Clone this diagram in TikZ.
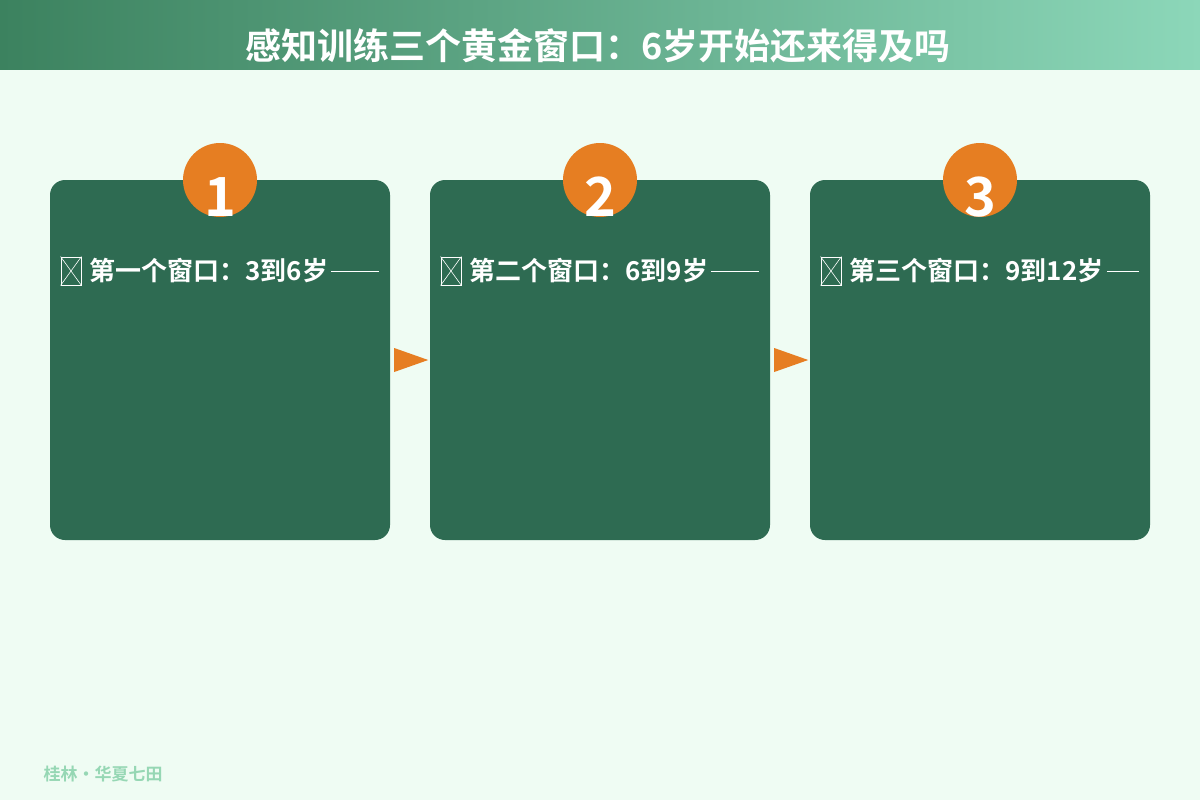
\documentclass[tikz,border=0pt]{standalone}
\usepackage{fontspec}
\setmainfont{Noto Sans CJK SC}
\newfontfamily\cjkb{Noto Sans CJK SC Bold}
\usetikzlibrary{positioning}
\definecolor{bgmint}{RGB}{239,252,243}
\definecolor{boxgreen}{RGB}{46,107,82}
\definecolor{badgeorange}{RGB}{230,126,34}
\definecolor{footgreen}{RGB}{150,215,180}
\definecolor{headdark}{RGB}{60,130,95}
\definecolor{headlight}{RGB}{140,215,185}

\begin{document}
\begin{tikzpicture}[x=1pt,y=-1pt,
    stage/.style={fill=boxgreen,rounded corners=15pt,minimum width=340pt,minimum height=360pt,inner sep=0pt},
    badge/.style={circle,fill=badgeorange,minimum size=74pt,inner sep=0pt},
    tofu/.style={draw=white,line width=0.8pt,minimum width=20pt,minimum height=28pt,inner sep=0pt},
    stagelabel/.style={text=white,font=\cjkb\fontsize{26}{30}\selectfont,inner sep=0pt,anchor=west}]
    % background and header
    \fill [bgmint] (0,0) rectangle (1200,800);
    \shade [left color=headdark,right color=headlight] (0,0) rectangle (1200,70);
    \node [text=white,font=\cjkb\fontsize{36}{40}\selectfont] (title) at (598,46) {感知训练三个黄金窗口：6岁开始还来得及吗};

    % stages
    \foreach \i/\x/\txt in {1/220/第一个窗口：3到6岁,2/600/第二个窗口：6到9岁,3/980/第三个窗口：9到12岁}{
        \node [stage] (s\i) at (\x,360) {};
        \node [badge] (c\i) at (\x,180) {};
        \node [text=white,font=\cjkb\fontsize{54}{58}\selectfont] (n\i) at (\x,197) {\i};
        \node [tofu] (t\i) at (\x-149,271) {};
        \draw [white,line width=0.6pt] (t\i.north west) -- (t\i.south east) (t\i.north east) -- (t\i.south west);
        \node [stagelabel,right=8pt of t\i] (l\i) {\txt};
        \draw [white,line width=0.8pt] (l\i.east)++(3,0) -- ([xshift=-11pt]s\i.east |- l\i.east);
    }

    % arrows between stages
    \foreach \a in {1,2}{
        \fill [badgeorange] ([xshift=4pt,yshift=-12pt]s\a.east) -- ([xshift=38pt]s\a.east) -- ([xshift=4pt,yshift=12pt]s\a.east) -- cycle;
    }

    % footer
    \node [text=footgreen,font=\cjkb\fontsize{17}{20}\selectfont,anchor=west] (foot) at (40,774) {桂林・华夏七田};
\end{tikzpicture}
\end{document}
